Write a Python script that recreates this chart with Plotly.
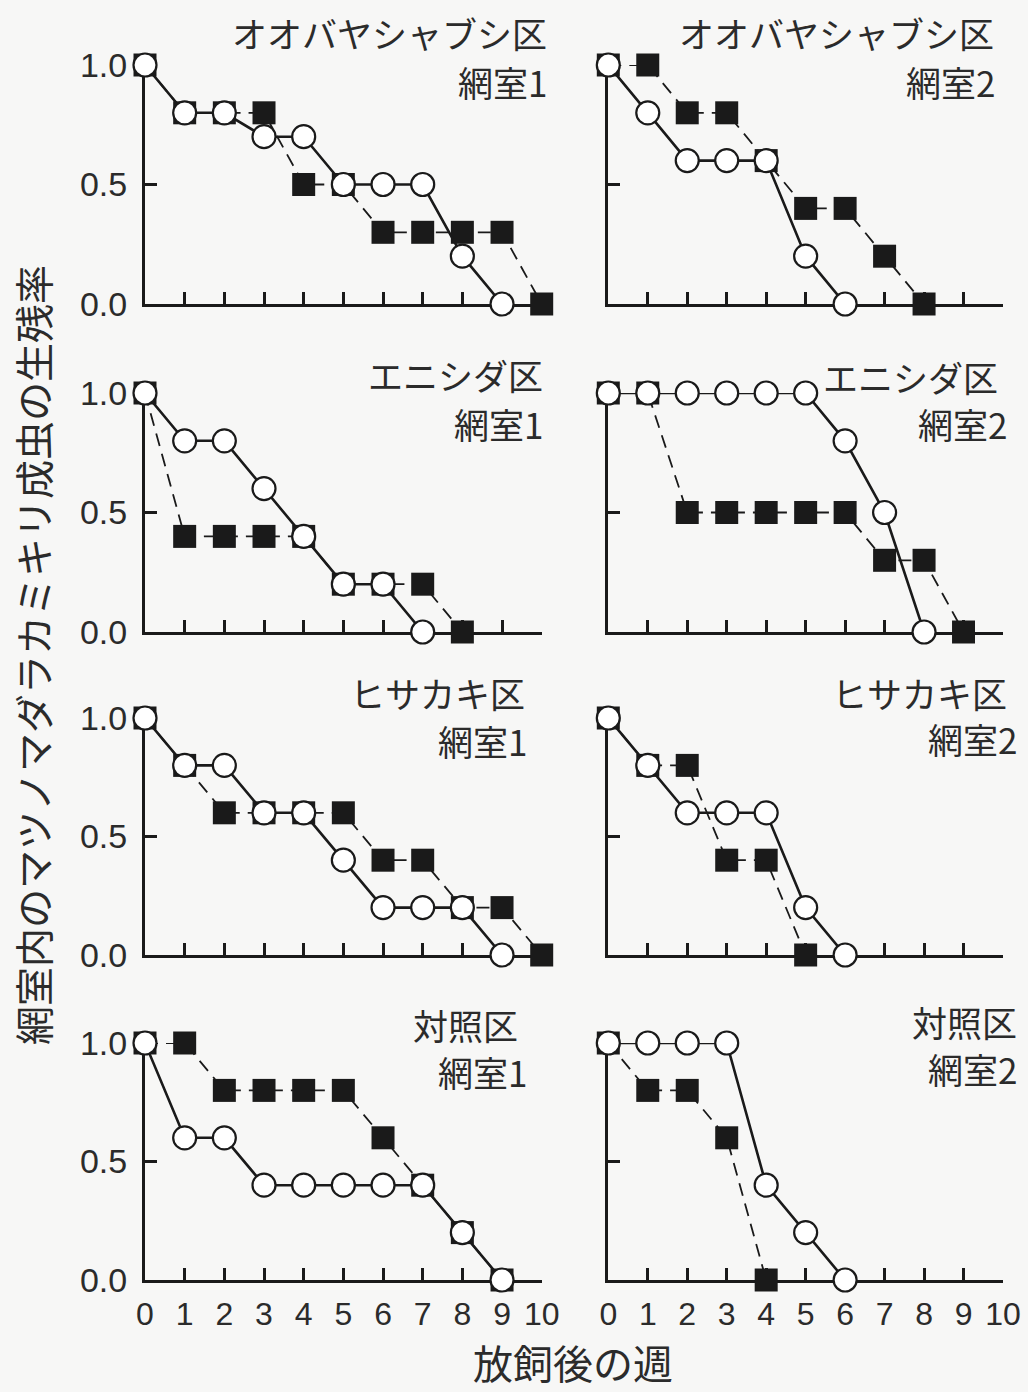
import plotly.graph_objects as go

# ---------------- data ----------------
weeks = [0, 1, 2, 3, 4, 5, 6, 7, 8, 9, 10]
x_tick_labels = ["0", "1", "2", "3", "4", "5", "6", "7", "8", "9", "10"]
y_tick_vals = [0.0, 0.5, 1.0]
y_tick_labels = ["0.0", "0.5", "1.0"]

oobaya1_open = [1.0, 0.8, 0.8, 0.7, 0.7, 0.5, 0.5, 0.5, 0.2, 0.0]
oobaya1_filled = [1.0, 0.8, 0.8, 0.8, 0.5, 0.5, 0.3, 0.3, 0.3, 0.3, 0.0]
oobaya2_open = [1.0, 0.8, 0.6, 0.6, 0.6, 0.2, 0.0]
oobaya2_filled = [1.0, 1.0, 0.8, 0.8, 0.6, 0.4, 0.4, 0.2, 0.0]
enishida1_open = [1.0, 0.8, 0.8, 0.6, 0.4, 0.2, 0.2, 0.0]
enishida1_filled = [1.0, 0.4, 0.4, 0.4, 0.4, 0.2, 0.2, 0.2, 0.0]
enishida2_open = [1.0, 1.0, 1.0, 1.0, 1.0, 1.0, 0.8, 0.5, 0.0]
enishida2_filled = [1.0, 1.0, 0.5, 0.5, 0.5, 0.5, 0.5, 0.3, 0.3, 0.0]
hisakaki1_open = [1.0, 0.8, 0.8, 0.6, 0.6, 0.4, 0.2, 0.2, 0.2, 0.0]
hisakaki1_filled = [1.0, 0.8, 0.6, 0.6, 0.6, 0.6, 0.4, 0.4, 0.2, 0.2, 0.0]
hisakaki2_open = [1.0, 0.8, 0.6, 0.6, 0.6, 0.2, 0.0]
hisakaki2_filled = [1.0, 0.8, 0.8, 0.4, 0.4, 0.0]
control1_open = [1.0, 0.6, 0.6, 0.4, 0.4, 0.4, 0.4, 0.4, 0.2, 0.0]
control1_filled = [1.0, 1.0, 0.8, 0.8, 0.8, 0.8, 0.6, 0.4, 0.2, 0.0]
control2_open = [1.0, 1.0, 1.0, 1.0, 0.4, 0.2, 0.0]
control2_filled = [1.0, 0.8, 0.8, 0.6, 0.0]

plot_names = ["オオバヤシャブシ区", "オオバヤシャブシ区", "エニシダ区", "エニシダ区",
              "ヒサカキ区", "ヒサカキ区", "対照区", "対照区"]
room_names = ["網室1", "網室2", "網室1", "網室2", "網室1", "網室2", "網室1", "網室2"]
open_series = [oobaya1_open, oobaya2_open, enishida1_open, enishida2_open,
               hisakaki1_open, hisakaki2_open, control1_open, control2_open]
filled_series = [oobaya1_filled, oobaya2_filled, enishida1_filled, enishida2_filled,
                 hisakaki1_filled, hisakaki2_filled, control1_filled, control2_filled]

x_title = "放飼後の週"
y_title = "網室内のマツノマダラカミキリ成虫の生残率"

# ---------------- layout geometry (pixels) ----------------
W, H = 1028, 1392
col_px = [(145, 541.7), (608.3, 1003)]
row_px = [(65, 304), (393, 632), (718, 955), (1043, 1280)]
# title positions: (line1 center y, line2 center y, line1 right x, line2 right x)
title_pos = [
    (33, 81, 549, 549), (33, 81, 996, 997),
    (375, 423, 545, 545), (376, 423, 1000, 1009),
    (693, 740, 527, 529), (692, 739, 1009, 1019),
    (1024, 1071, 520, 529), (1021, 1068, 1019, 1019),
]

INK = "#1a1a1a"
TXT = "#2b2b2b"
FONT = "Liberation Sans, Arial, Noto Sans CJK JP, sans-serif"
CJK = "Noto Sans CJK JP, sans-serif"

fig = go.Figure()
layout = dict(
    width=W, height=H,
    margin=dict(l=0, r=0, t=0, b=0, autoexpand=False),
    paper_bgcolor="#f7f7f6", plot_bgcolor="rgba(0,0,0,0)",
    showlegend=False,
    font=dict(family=FONT, color=TXT),
    annotations=[],
)

for i in range(8):
    r, c = divmod(i, 2)
    k = i + 1
    xa = f"x{k}" if k > 1 else "x"
    ya = f"y{k}" if k > 1 else "y"
    xkey = f"xaxis{k}" if k > 1 else "xaxis"
    ykey = f"yaxis{k}" if k > 1 else "yaxis"
    x0, x1 = col_px[c]
    ytop, ybot = row_px[r]

    fys = filled_series[i]
    fig.add_trace(go.Scatter(
        x=weeks[:len(fys)], y=fys, xaxis=xa, yaxis=ya,
        mode="lines+markers", cliponaxis=False,
        line=dict(color=INK, width=1.8, dash="13px,8px"),
        marker=dict(symbol="square", size=23, color=INK, line=dict(width=0)),
    ))
    oys = open_series[i]
    fig.add_trace(go.Scatter(
        x=weeks[:len(oys)], y=oys, xaxis=xa, yaxis=ya,
        mode="lines+markers", cliponaxis=False,
        line=dict(color=INK, width=2.6),
        marker=dict(symbol="circle", size=23, color="white", line=dict(width=2.2, color=INK)),
    ))

    layout[xkey] = dict(
        domain=[x0 / W, x1 / W], range=[0, 10], anchor=ya, automargin=False,
        showgrid=False, zeroline=False, showline=True, linecolor=INK, linewidth=3,
        ticks="inside", ticklen=12, tickwidth=2.5, tickcolor=INK,
        tickvals=weeks, ticktext=x_tick_labels, layer="below traces",
        showticklabels=(r == 3), ticklabelstandoff=4,
        tickfont=dict(family=FONT, size=32, color=TXT),
    )
    layout[ykey] = dict(
        domain=[1 - ybot / H, 1 - ytop / H], range=[0, 1], anchor=xa, automargin=False,
        showgrid=False, zeroline=False, showline=True, linecolor=INK, linewidth=3,
        ticks="inside", ticklen=12, tickwidth=2.5, tickcolor=INK,
        tickvals=y_tick_vals, ticktext=y_tick_labels, layer="below traces",
        showticklabels=(c == 0), ticklabelstandoff=8,
        tickfont=dict(family=FONT, size=34, color=TXT),
    )

    l1y, l2y, l1x, l2x = title_pos[i]
    layout["annotations"].append(dict(
        text=plot_names[i], xref="paper", yref="paper",
        x=l1x / W, y=1 - l1y / H, xanchor="right", yanchor="middle",
        showarrow=False, font=dict(family=CJK, size=35, color=TXT),
    ))
    layout["annotations"].append(dict(
        text=room_names[i], xref="paper", yref="paper",
        x=l2x / W, y=1 - l2y / H, xanchor="right", yanchor="middle",
        showarrow=False, font=dict(family=CJK, size=35, color=TXT),
    ))

layout["annotations"].append(dict(
    text=x_title, xref="paper", yref="paper",
    x=573 / W, y=1 - 1362 / H, xanchor="center", yanchor="middle", borderpad=0,
    showarrow=False, font=dict(family=CJK, size=40, color=TXT),
))
layout["annotations"].append(dict(
    text=y_title, xref="paper", yref="paper",
    x=32 / W, y=1 - 655 / H, xanchor="center", yanchor="middle", textangle=-90,
    showarrow=False, font=dict(family=CJK, size=39, color=TXT),
))

fig.update_layout(**layout)
fig.write_html("out.html")
